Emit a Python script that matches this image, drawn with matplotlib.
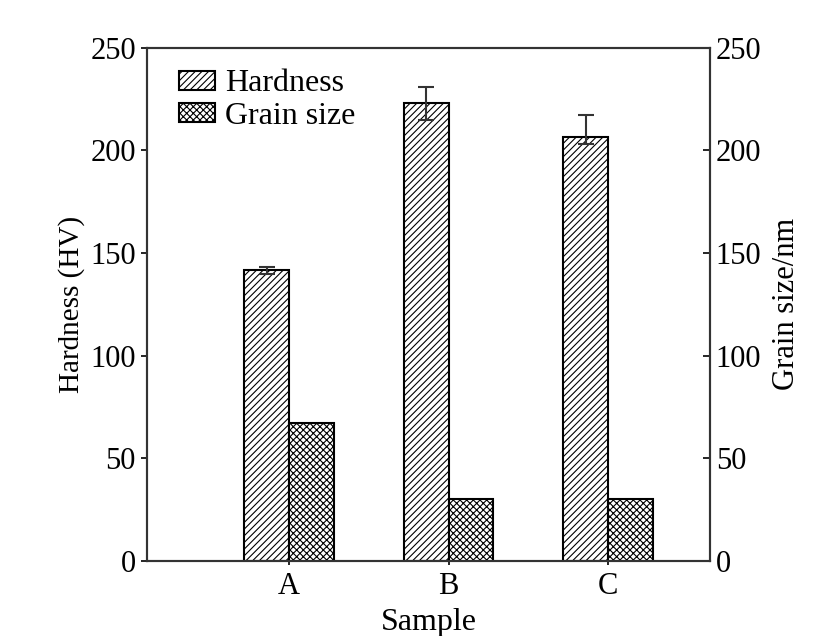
import matplotlib
matplotlib.use("Agg")
import matplotlib.pyplot as plt
import numpy as np

samples = ["A", "B", "C"]
hardness = [141.5, 223, 206.5]
hardness_err_low = [1.5, 8, 3.5]
hardness_err_high = [1.5, 8, 10.5]
grain_size = [67, 30, 30]

plt.rcParams['font.family'] = ['Liberation Serif', 'DejaVu Serif']
plt.rcParams['hatch.linewidth'] = 0.8
plt.rcParams['font.size'] = 22

fig = plt.figure(figsize=(8.21, 6.36), dpi=100)
ax = fig.add_axes([0.179, 0.118, 0.686, 0.807])
ax2 = ax.twinx()

x = np.arange(len(samples))
w = 0.28
b1 = ax.bar(x - w/2, hardness, w, facecolor='white', edgecolor='black', linewidth=1.5,
            hatch='/////', label='Hardness', zorder=2)
ax.errorbar(x - w/2, hardness, yerr=[hardness_err_low, hardness_err_high], fmt='none',
            ecolor='#333333', elinewidth=1.5, capsize=6, capthick=1.5, zorder=3)
b2 = ax2.bar(x + w/2, grain_size, w, facecolor='white', edgecolor='black', linewidth=1.5,
             hatch='xxxxx', label='Grain size', zorder=2)

ax.set_xlim(-0.89, 2.64)
ax.set_ylim(0, 250)
ax2.set_ylim(0, 250)
ax.set_yticks([0, 50, 100, 150, 200, 250])
ax2.set_yticks([0, 50, 100, 150, 200, 250])
ax.set_xticks(x)
ax.set_xticklabels(samples)

ax.tick_params(axis='y', direction='out', length=4, width=1.2, pad=4)
ax.tick_params(axis='x', direction='out', length=3, width=1.2, pad=5)
ax2.tick_params(axis='y', direction='in', length=5, width=1.2, pad=4)

for a in (ax, ax2):
    for s in a.spines.values():
        s.set_linewidth(1.5)
        s.set_color('#333333')

ax.set_ylabel('Hardness (HV)', labelpad=4, fontsize=21)
ax2.set_ylabel('Grain size/nm', labelpad=8, fontsize=22)
ax.set_xlabel('Sample', labelpad=5, fontsize=23)

ax.legend([b1, b2], ['Hardness', 'Grain size'], loc='upper left', frameon=False,
          bbox_to_anchor=(0.022, 0.995), handlelength=1.15, handleheight=0.55,
          handletextpad=0.3, labelspacing=0.1, borderaxespad=0.2, fontsize=23)

fig.savefig('out.png', dpi=100)
